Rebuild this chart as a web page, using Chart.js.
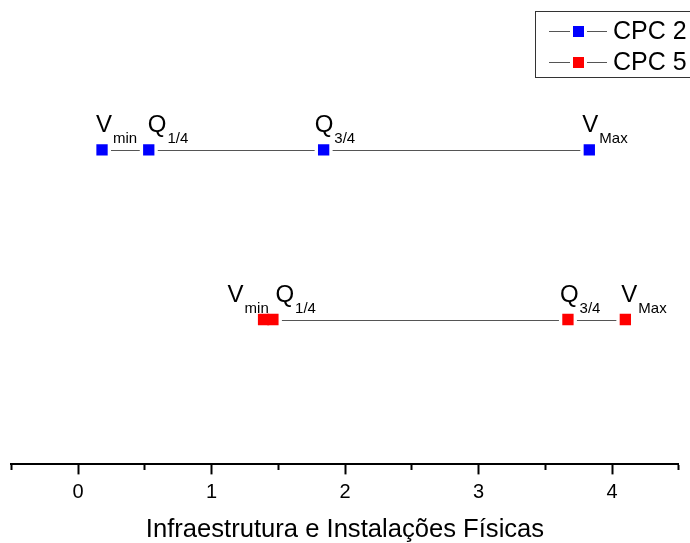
<!DOCTYPE html>
<html>
<head>
<meta charset="utf-8">
<script src="https://cdn.jsdelivr.net/npm/chart.js@4"></script>
<style>
  html, body { margin: 0; padding: 0; background: #fff; }
</style>
</head>
<body>
<canvas id="chart" width="690" height="543"></canvas>
<script>
// values
const seriesNames = ['CPC 2', 'CPC 5'];
const seriesColors = ['#0000ff', '#ff0000'];
const cpc2X = [0.18, 0.53, 1.84, 3.83];
const cpc5X = [1.39, 1.46, 3.67, 4.10];
const rowY = [2, 1];
const pointMain = ['V', 'Q', 'Q', 'V'];
const pointSub = ['min', '1/4', '3/4', 'Max'];
const xTitle = 'Infraestrutura e Instalações Físicas';

const FONT = '"Liberation Sans", Arial, sans-serif';
const GAP = 9;
// where each label's big letter starts, relative to its point
const labelDx = [[-6, -1, -9, -7], [-36, 2.5, -8, -4]];

const gapLines = {
    id: 'gapLines',
    beforeDatasetsDraw(chart) {
        const ctx = chart.ctx;
        ctx.save();
        ctx.strokeStyle = '#555';
        ctx.lineWidth = 1;
        chart.data.datasets.forEach((ds, i) => {
            const pts = chart.getDatasetMeta(i).data;
            for (let k = 1; k < pts.length; k++) {
                const a = pts[k - 1], b = pts[k];
                if (b.x - a.x <= 2 * GAP) continue;
                ctx.beginPath();
                ctx.moveTo(a.x + GAP, Math.round(a.y) + 0.5);
                ctx.lineTo(b.x - GAP, Math.round(b.y) + 0.5);
                ctx.stroke();
            }
        });
        ctx.restore();
    }
};

const pointLabels = {
    id: 'pointLabels',
    afterDatasetsDraw(chart) {
        const ctx = chart.ctx;
        ctx.save();
        ctx.fillStyle = '#000';
        ctx.textBaseline = 'alphabetic';
        ctx.textAlign = 'left';
        chart.data.datasets.forEach((ds, i) => {
            chart.getDatasetMeta(i).data.forEach((p, k) => {
                const x = p.x + labelDx[i][k];
                ctx.font = '24px ' + FONT;
                ctx.fillText(pointMain[k], x, p.y - 18);
                const w = ctx.measureText(pointMain[k]).width;
                ctx.font = '15px ' + FONT;
                ctx.fillText(pointSub[k], x + w + 1, p.y - 7);
            });
        });
        ctx.restore();
    }
};

const boxLegend = {
    id: 'boxLegend',
    afterDraw(chart) {
        const ctx = chart.ctx;
        ctx.save();
        ctx.strokeStyle = '#333';
        ctx.lineWidth = 1;
        ctx.strokeRect(535.5, 11.5, 200, 66);
        const rows = [31, 62];
        chart.data.datasets.forEach((ds, i) => {
            const y = rows[i];
            ctx.strokeStyle = '#555';
            ctx.beginPath();
            ctx.moveTo(549, y + 0.5); ctx.lineTo(570, y + 0.5);
            ctx.moveTo(587, y + 0.5); ctx.lineTo(607, y + 0.5);
            ctx.stroke();
            ctx.fillStyle = ds.backgroundColor;
            ctx.fillRect(573, y - 5, 11, 11);
            ctx.fillStyle = '#000';
            ctx.font = '25px ' + FONT;
            ctx.textBaseline = 'middle';
            ctx.fillText(ds.label, 613, y + 1);
        });
        ctx.restore();
    }
};

new Chart(document.getElementById('chart'), {
    type: 'scatter',
    data: {
        datasets: [
            {
                label: seriesNames[0],
                data: cpc2X.map(x => ({x: x, y: rowY[0]})),
                backgroundColor: seriesColors[0],
                pointStyle: 'rect',
                pointRadius: 8,
                pointBorderWidth: 0,
                showLine: false
            },
            {
                label: seriesNames[1],
                data: cpc5X.map(x => ({x: x, y: rowY[1]})),
                backgroundColor: seriesColors[1],
                pointStyle: 'rect',
                pointRadius: 8,
                pointBorderWidth: 0,
                showLine: false
            }
        ]
    },
    options: {
        responsive: false,
        animation: false,
        devicePixelRatio: 1,
        layout: { padding: { left: 11.25, right: 11.25, top: 0, bottom: 0.5 } },
        plugins: { legend: { display: false }, tooltip: { enabled: false } },
        scales: {
            x: {
                type: 'linear',
                min: -0.5,
                max: 4.5,
                border: { display: true, color: '#000', width: 2 },
                grid: {
                    drawOnChartArea: false,
                    drawTicks: true,
                    tickLength: 10,
                    tickWidth: 2,
                    tickColor: '#000',
                    tickBorderDash: c => (c.tick && Number.isInteger(c.tick.value)) ? [] : [5, 30]
                },
                ticks: {
                    stepSize: 0.5,
                    autoSkip: false,
                    maxRotation: 0,
                    padding: 6,
                    color: '#000',
                    font: { family: FONT, size: 20 },
                    callback: v => Number.isInteger(v) ? String(v) : ''
                },
                title: {
                    display: true,
                    text: xTitle,
                    color: '#000',
                    font: { family: FONT, size: 25.6, lineHeight: 1 },
                    padding: { top: 6.5, bottom: 0 }
                }
            },
            y: {
                type: 'linear',
                display: false,
                min: 0.146,
                max: 2.836
            }
        }
    },
    plugins: [gapLines, pointLabels, boxLegend]
});
</script>
</body>
</html>
